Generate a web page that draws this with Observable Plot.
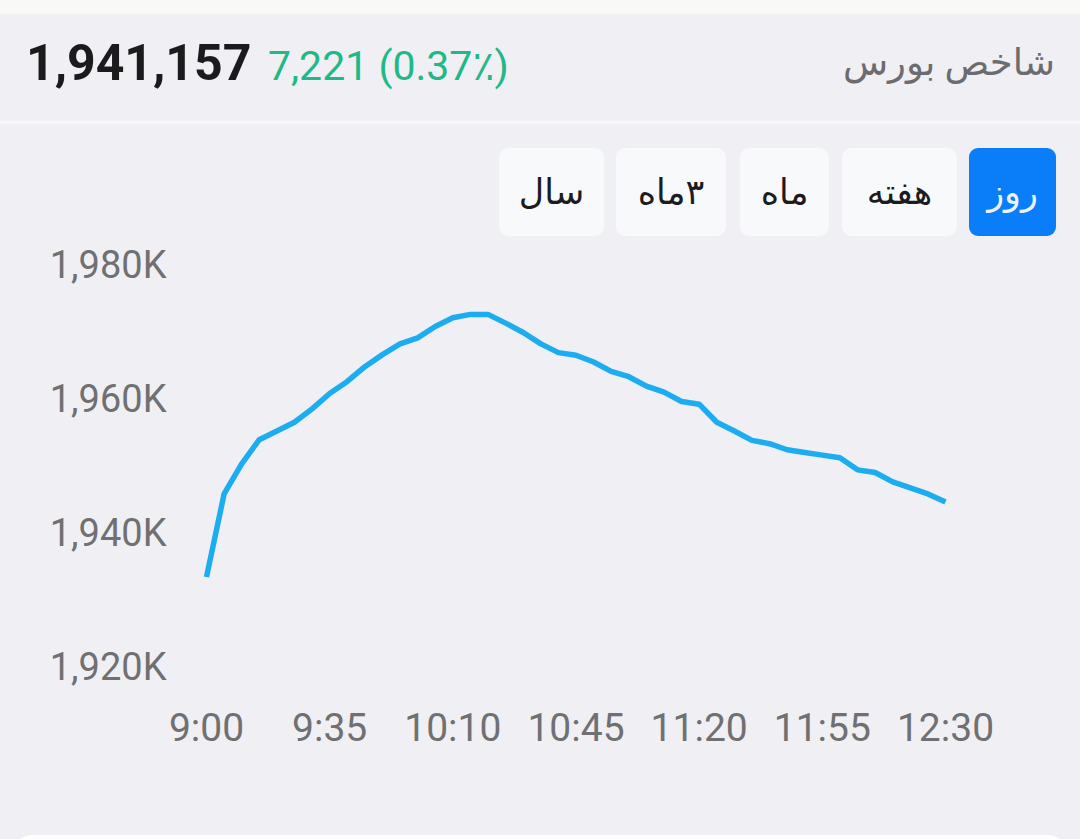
<!DOCTYPE html>
<html>
<head>
<meta charset="utf-8">
<script src="https://cdn.jsdelivr.net/npm/d3@7"></script>
<script src="https://cdn.jsdelivr.net/npm/@observablehq/plot@0.6"></script>
<style>
  html, body { margin:0; padding:0; }
  body { width:1080px; height:839px; background:#efeff4; position:relative; overflow:hidden; font-family: Roboto, "DejaVu Sans", sans-serif; }
  .strip { position:absolute; left:0; top:0; width:1080px; height:14px; background:#f9f9f8; }
  .sep { position:absolute; left:0; top:121px; width:1080px; height:3px; background:#f7f7f8; }
  .abs { position:absolute; white-space:nowrap; line-height:1; }
  #value { left:26px; top:38px; font-size:50px; font-weight:700; color:#1b1b1d; }
  #change { left:268px; top:46px; font-size:41px; color:#1fb987; }
  #title { right:25px; top:44px; font-size:37px; color:#6c6c70; direction:rtl; }
  .btn { position:absolute; top:148px; height:88px; border-radius:9px; background:#f8f9fa;
         display:flex; align-items:center; justify-content:center; font-size:35px; color:#1c1c1e; direction:rtl; }
  .btn.active { background:#0a7df8; color:#eef4ff; }
  #chart { position:absolute; left:0; top:240px; }
  .card { position:absolute; left:14px; top:835px; width:1052px; height:40px; background:#ffffff; border-radius:18px; }
</style>
</head>
<body>
<div class="strip"></div>
<div class="sep"></div>
<div id="value" class="abs"></div>
<div id="change" class="abs"></div>
<div id="title" class="abs"></div>
<div id="buttons"></div>
<div id="chart"></div>
<div class="card"></div>
<script>
// ---- data ----
const indexValue = "1,941,157";
const indexChange = "7,221 (0.37٪)";
const indexTitle = "شاخص بورس";
const periods = ["روز", "هفته", "ماه", "۳ماه", "سال"];
const activePeriod = "روز";

const times = ["9:00","9:05","9:10","9:15","9:20","9:25","9:30","9:35","9:40","9:45","9:50","9:55",
  "10:00","10:05","10:10","10:15","10:20","10:25","10:30","10:35","10:40","10:45","10:50","10:55",
  "11:00","11:05","11:10","11:15","11:20","11:25","11:30","11:35","11:40","11:45","11:50","11:55",
  "12:00","12:05","12:10","12:15","12:20","12:25","12:30"];
// index values in thousands (K)
const values = [1933.5,1945.9,1950.4,1954.0,1955.3,1956.6,1958.6,1960.9,1962.7,1964.9,1966.7,1968.3,
  1969.2,1970.9,1972.2,1972.7,1972.7,1971.4,1970.0,1968.3,1967.0,1966.6,1965.6,1964.2,
  1963.4,1962.0,1961.1,1959.7,1959.3,1956.6,1955.3,1953.9,1953.4,1952.5,1952.1,1951.7,
  1951.3,1949.5,1949.1,1947.7,1946.8,1945.9,1944.7];
const xTicks = ["9:00","9:35","10:10","10:45","11:20","11:55","12:30"];
const yTicks = [1920, 1940, 1960, 1980];

// ---- header ----
document.getElementById("value").textContent = indexValue;
document.getElementById("change").textContent = indexChange;
document.getElementById("title").textContent = indexTitle;

// ---- period buttons (layout only) ----
const btnLefts = [969, 842, 740, 616, 499];
const btnWidths = [87, 115, 89, 110, 105];
const btnBox = document.getElementById("buttons");
periods.forEach((p, i) => {
  const b = document.createElement("div");
  b.className = "btn" + (p === activePeriod ? " active" : "");
  b.style.left = btnLefts[i] + "px";
  b.style.width = btnWidths[i] + "px";
  b.textContent = p;
  btnBox.appendChild(b);
});

// ---- chart ----
const parse = d3.utcParse("%H:%M");
const data = times.map((t, i) => ({t: parse(t), v: values[i]}));

const chart = Plot.plot({
  width: 1080,
  height: 527,
  marginTop: 25,
  marginLeft: 206,
  marginRight: 135,
  marginBottom: 100,
  style: {background: "transparent", fontFamily: "Roboto, sans-serif", color: "#707072", overflow: "visible"},
  x: {type: "utc", domain: [parse(times[0]), parse(times[times.length - 1])], label: null},
  y: {domain: [yTicks[0], yTicks[yTicks.length - 1]], label: null},
  marks: [
    Plot.axisY({ticks: yTicks, tickSize: 0, tickPadding: 40, fontSize: 38, label: null,
      tickFormat: d => d3.format(",")(d) + "K"}),
    Plot.axisX({ticks: xTicks.map(parse), tickSize: 0, tickPadding: 46, fontSize: 39, label: null,
      tickFormat: d3.utcFormat("%-H:%M")}),
    Plot.line(data, {x: "t", y: "v", stroke: "#1badf0", strokeWidth: 5.5, strokeLinejoin: "round", strokeLinecap: "butt"})
  ]
});
document.getElementById("chart").appendChild(chart);
</script>
</body>
</html>
